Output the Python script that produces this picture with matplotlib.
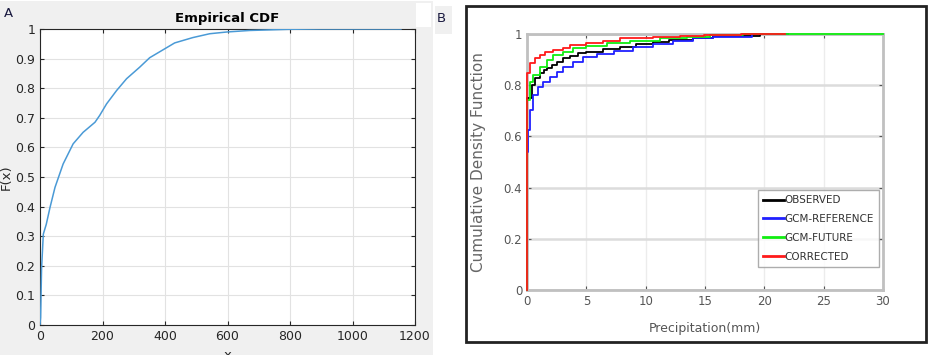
import matplotlib
matplotlib.use("Agg")
import matplotlib.pyplot as plt
from matplotlib.patches import Rectangle

W, H = 942, 355

# panel A: empirical CDF (x, F(x))
ecdf_x = [0, 2, 5, 10.6, 20, 32, 48, 74, 106, 138, 176, 191, 213, 245, 277, 319,
          351, 399, 431, 489, 543, 599, 670, 798, 900, 1155]
ecdf_y = [0, 0.025, 0.19, 0.307, 0.34, 0.397, 0.465, 0.544, 0.612, 0.651, 0.685,
          0.708, 0.747, 0.792, 0.832, 0.871, 0.903, 0.933, 0.953, 0.971, 0.984,
          0.990, 0.995, 0.999, 1.0, 1.0]

# panel B: CDFs of precipitation (mm)
obs_x = [0, 0.03, 0.39, 0.67, 1.1, 1.4, 1.66, 2.08, 2.5, 3.06, 3.6, 4.3, 5.0, 6.4,
         7.8, 9.2, 10.6, 12, 14, 15.7, 19.6, 22]
obs_y = [0, 0.75, 0.80, 0.827, 0.846, 0.86, 0.866, 0.879, 0.892, 0.905, 0.914, 0.924,
         0.931, 0.94, 0.95, 0.961, 0.97, 0.977, 0.983, 0.992, 1.0, 1.0]

ref_x = [0, 0.03, 0.11, 0.25, 0.53, 0.96, 1.38, 1.94, 2.5, 3.06, 3.9, 4.75, 5.9, 7.3,
         8.9, 10.6, 12.3, 14, 15.7, 19, 22]
ref_y = [0, 0.54, 0.625, 0.703, 0.762, 0.794, 0.814, 0.833, 0.853, 0.872, 0.892, 0.909,
         0.922, 0.935, 0.948, 0.961, 0.974, 0.983, 0.99, 1.0, 1.0]

fut_x = [0, 0.03, 0.25, 0.53, 1.1, 1.66, 2.2, 3.06, 3.9, 5.0, 6.7, 8.7, 11.2, 13.5,
         15.4, 18.2, 30]
fut_y = [0, 0.742, 0.814, 0.84, 0.872, 0.898, 0.918, 0.931, 0.944, 0.953, 0.964, 0.974,
         0.983, 0.99, 0.996, 1.0, 1.0]

cor_x = [0, 0.03, 0.25, 0.67, 1.1, 1.5, 2.2, 3.06, 3.6, 5.0, 6.4, 7.8, 10.6, 12.9,
         14.9, 18, 21.7]
cor_y = [0, 0.846, 0.885, 0.905, 0.918, 0.931, 0.9375, 0.944, 0.957, 0.964, 0.974,
         0.983, 0.987, 0.992, 0.996, 1.0, 1.0]

series = [("OBSERVED", obs_x, obs_y, "black"),
          ("GCM-REFERENCE", ref_x, ref_y, "#2020ff"),
          ("GCM-FUTURE", fut_x, fut_y, "#10ee10"),
          ("CORRECTED", cor_x, cor_y, "#ff1a1a")]


def px(x0, y0, x1, y1):
    # pixel box (top-left origin) -> figure fraction rect
    return [x0 / W, 1 - y1 / H, (x1 - x0) / W, (y1 - y0) / H]


def box(fig, x0, y0, x1, y1, **kw):
    l, b, w, h = px(x0, y0, x1, y1)
    fig.add_artist(Rectangle((l, b), w, h, transform=fig.transFigure, **kw))


fig = plt.figure(figsize=(W / 100, H / 100), dpi=100)
fig.patch.set_facecolor("white")

# background pieces
box(fig, 0, 1, 433, 355, facecolor="#f0f0f0", edgecolor="none", zorder=0)
box(fig, 416, 3, 431, 27, facecolor="white", edgecolor="none", zorder=0)
box(fig, 435, 6, 452, 34, facecolor="#f0f0f0", edgecolor="none", zorder=0)
box(fig, 466, 6, 926, 342, facecolor="white", edgecolor="#222222", lw=2, zorder=0)

# ---- panel A ----
dark = "#262626"
axA = fig.add_axes(px(40, 29, 415, 325))
axA.plot(ecdf_x, ecdf_y, color="#4a9ad6", lw=1.1, zorder=3)
axA.set_xlim(0, 1200)
axA.set_ylim(0, 1)
axA.set_xticks(range(0, 1201, 200))
axA.set_yticks([i / 10 for i in range(11)])
axA.set_yticklabels(["0", "0.1", "0.2", "0.3", "0.4", "0.5", "0.6", "0.7", "0.8", "0.9", "1"])
axA.grid(True, color="#e2e2e2", lw=0.8)
axA.tick_params(direction="in", length=3, labelsize=9, colors=dark, top=True, right=True)
for s in axA.spines.values():
    s.set_color(dark)
    s.set_linewidth(0.8)
axA.set_title("Empirical CDF", fontsize=9.5, fontweight="bold", pad=5)
axA.set_ylabel("F(x)", fontsize=9.5, labelpad=2, color=dark)
fig.text(228 / W, 1 - 349 / H, "x", fontsize=9.5, ha="center", va="top", color=dark)
fig.text(4 / W, 1 - 17 / H, "A", fontsize=9.5, color="#1a1a40")
fig.text(437 / W, 1 - 22 / H, "B", fontsize=9.5, color="#1a1a40")

# ---- panel B ----
axB = fig.add_axes(px(527, 34, 883, 290))
for name, xs, ys, c in series:
    axB.plot(xs, ys, drawstyle="steps-post", color=c, lw=1.3, label=name,
             zorder=3, clip_on=False)
axB.set_xlim(0, 30)
axB.set_ylim(0, 1)
axB.set_xticks(range(0, 31, 5))
axB.set_yticks([0, 0.2, 0.4, 0.6, 0.8, 1])
axB.set_yticklabels(["0", "0.2", "0.4", "0.6", "0.8", "1"])
axB.yaxis.grid(True, color="#dcdcdc", lw=1.8)
axB.xaxis.grid(True, color="#ececec", lw=1)
axB.set_axisbelow(True)
axB.tick_params(direction="in", length=3, colors="#555555", labelsize=8.5, top=True, right=True)
for s in axB.spines.values():
    s.set_color("#c0c0c0")
    s.set_linewidth(2)
axB.set_ylabel("Cumulative Density Function", fontsize=11, color="#666666")
axB.yaxis.set_label_coords(-(527 - 486) / 356, 0.5)
axB.set_xlabel("Precipitation(mm)", fontsize=9, color="#555555")
axB.xaxis.set_label_coords(0.5, -(322 - 290) / 256)
leg = axB.legend(loc="lower right", bbox_to_anchor=(0.99, 0.09),
                 prop={"size": 7.5}, frameon=True, fancybox=False,
                 handlelength=2.0, handletextpad=0.1, labelspacing=0.85, borderpad=0.5,
                 borderaxespad=0)
leg.set_zorder(5)
leg.get_frame().set_edgecolor("#999999")
leg.get_frame().set_linewidth(1)
for ln in leg.get_lines():
    ln.set_linewidth(2)
for t in leg.get_texts():
    t.set_color("#333333")

fig.savefig("out.png", dpi=100)
